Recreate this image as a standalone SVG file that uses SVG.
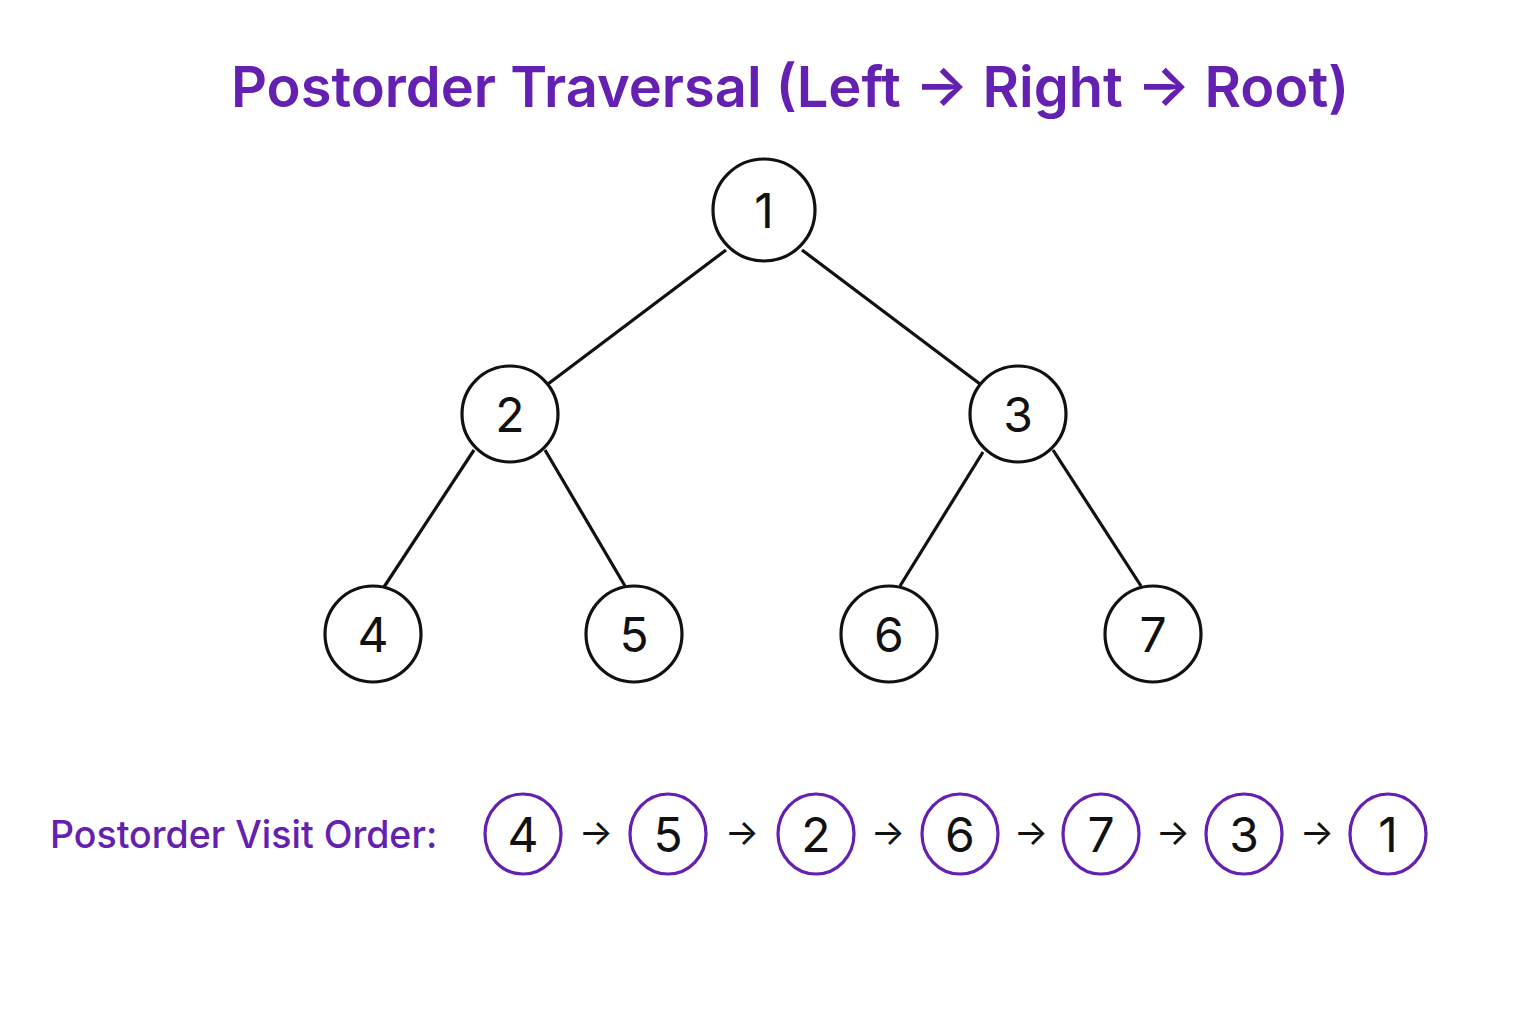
<svg xmlns="http://www.w3.org/2000/svg" width="1536" height="1024" viewBox="0 0 1536 1024">
<style>
.title{font-family:Inter,"Noto Sans",sans-serif;font-weight:600;font-size:56px;fill:#6420b0}
.lbl{font-family:Inter,"Noto Sans",sans-serif;font-weight:500;font-size:37.5px;fill:#6420b0}
.n{fill:#fff;stroke:#111;stroke-width:3.2}
.v{fill:#fff;stroke:#6420b0;stroke-width:3.2}
.t{font-family:Inter,"Noto Sans",sans-serif;font-size:48px;fill:#111;text-anchor:middle;dominant-baseline:central}
.e{stroke:#111;stroke-width:3.2;fill:none}
.a{font-family:Inter,"Noto Sans",sans-serif;font-size:36px;fill:#111;text-anchor:middle;dominant-baseline:central}
</style>
<rect width="1536" height="1024" fill="#fff"/>
<text class="title" x="790" y="107" text-anchor="middle">Postorder Traversal (Left → Right → Root)</text>
<g id="edges">
<line class="e" x1="726" y1="250" x2="548" y2="384"/>
<line class="e" x1="802" y1="250" x2="980" y2="384"/>
<line class="e" x1="474" y1="450" x2="384" y2="587"/>
<line class="e" x1="545" y1="450" x2="625" y2="586"/>
<line class="e" x1="983" y1="452" x2="900" y2="586"/>
<line class="e" x1="1053" y1="450" x2="1141" y2="586"/>
</g>
<g id="node1"><circle class="n" cx="764" cy="210" r="51"/><text class="t" x="764" y="210">1</text></g>
<g id="node2"><circle class="n" cx="510" cy="414" r="48"/><text class="t" x="510" y="414">2</text></g>
<g id="node3"><circle class="n" cx="1018" cy="414" r="48"/><text class="t" x="1018" y="414">3</text></g>
<g id="node4"><circle class="n" cx="373" cy="634" r="48"/><text class="t" x="373" y="634">4</text></g>
<g id="node5"><circle class="n" cx="634" cy="634" r="48"/><text class="t" x="634" y="634">5</text></g>
<g id="node6"><circle class="n" cx="889" cy="634" r="48"/><text class="t" x="889" y="634">6</text></g>
<g id="node7"><circle class="n" cx="1153" cy="634" r="48"/><text class="t" x="1153" y="634">7</text></g>
<text class="lbl" x="50" y="848">Postorder Visit Order:</text>
<g id="order">
<g id="v4"><ellipse class="v" cx="523" cy="834" rx="38" ry="40"/><text class="t" x="523" y="834">4</text></g>
<text class="a" x="596" y="832">→</text>
<g id="v5"><ellipse class="v" cx="668" cy="834" rx="38" ry="40"/><text class="t" x="668" y="834">5</text></g>
<text class="a" x="742" y="832">→</text>
<g id="v2"><ellipse class="v" cx="816" cy="834" rx="38" ry="40"/><text class="t" x="816" y="834">2</text></g>
<text class="a" x="888" y="832">→</text>
<g id="v6"><ellipse class="v" cx="960" cy="834" rx="38" ry="40"/><text class="t" x="960" y="834">6</text></g>
<text class="a" x="1031" y="832">→</text>
<g id="v7"><ellipse class="v" cx="1101" cy="834" rx="38" ry="40"/><text class="t" x="1101" y="834">7</text></g>
<text class="a" x="1173" y="832">→</text>
<g id="v3"><ellipse class="v" cx="1244" cy="834" rx="38" ry="40"/><text class="t" x="1244" y="834">3</text></g>
<text class="a" x="1317" y="832">→</text>
<g id="v1"><ellipse class="v" cx="1388" cy="834" rx="38" ry="40"/><text class="t" x="1388" y="834">1</text></g>
</g>
</svg>
